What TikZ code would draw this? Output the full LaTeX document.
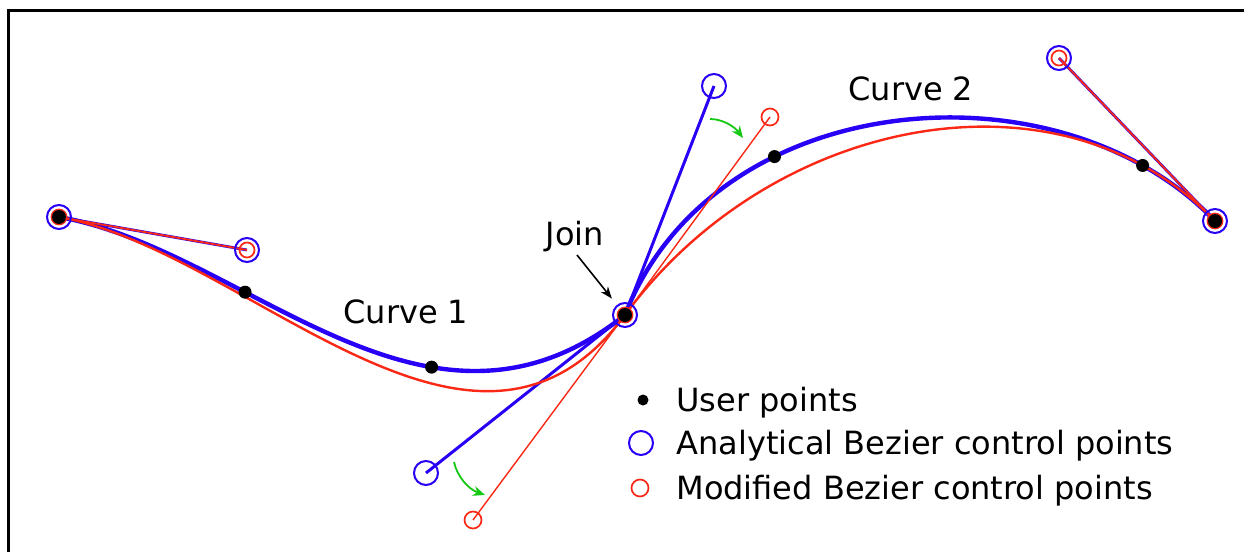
\documentclass[tikz,border=0pt]{standalone}
\usepackage{fontspec}
\setmainfont{DejaVu Sans}
\usetikzlibrary{arrows.meta}

\definecolor{bzblue}{RGB}{40,0,245}
\definecolor{bzred}{RGB}{250,40,20}
\definecolor{bzgreen}{RGB}{20,200,20}

\begin{document}
\begin{tikzpicture}[x=0.5pt, y=-0.5pt, % one unit per pixel, y pointing down
    font=\fontsize{16}{19}\selectfont,
    upt/.style={circle, fill=black, inner sep=0pt, minimum size=6.5pt}, % user point
    acp/.style={circle, draw=bzblue, line width=1pt, inner sep=0pt, minimum size=12pt}, % analytical control point
    mcp/.style={circle, draw=bzred, line width=0.85pt, inner sep=0pt, minimum size=7.5pt}, % modified control point
    lbl/.style={inner sep=0pt},
    turn/.style={-{Stealth[length=6pt, width=5pt]}, bzgreen, line width=0.9pt}
   ]
  \useasboundingbox (0,0) rectangle (1244,552);
  \draw[line width=1.5pt] (1244,10) -- (8,10) -- (8,552);

  % end points and join
  \coordinate (a0) at (59,217);
  \coordinate (join) at (625,315);
  \coordinate (a3) at (1215,221);
  % control points
  \coordinate (c1) at (247,250);
  \coordinate (c2) at (426,473);  % analytical
  \coordinate (c2m) at (473,520); % modified
  \coordinate (c3) at (714,86);   % analytical
  \coordinate (c3m) at (770,117); % modified
  \coordinate (c4) at (1059,58);

  % analytical tangents and curves
  \draw[bzblue, line width=1.4pt] (a0) -- (c1) (a3) -- (c4);
  \draw[bzblue, line width=1.5pt] (c2) -- (join) -- (c3);
  \draw[bzblue, line width=2.2pt] (a0) .. controls (c1) and (c2) .. (join)
     .. controls (c3) and (c4) .. (a3);
  % modified tangents and curves
  \draw[bzred, line width=0.9pt] (a0) -- (c1) (a3) -- (c4);
  \draw[bzred, line width=0.7pt] (c2m) -- (join) -- (c3m);
  \draw[bzred, line width=1.2pt] (a0) .. controls (c1) and (c2m) .. (join)
     .. controls (c3m) and (c4) .. (a3);

  % control point rings
  \foreach \p in {a0,c1,c2,join,c3,c4,a3}
    \node[acp] (b-\p) at (\p) {};
  \foreach \p in {a0,c1,join,c4,a3}
    \node[mcp] (r-\p) at (\p) {};
  \node[mcp, minimum size=8.5pt] (r-c2m) at (c2m) {};
  \node[mcp, minimum size=8.5pt] (r-c3m) at (c3m) {};

  % user points
  \node[upt, minimum size=7pt] (u0) at (a0) {};
  \node[upt, minimum size=7pt] (uj) at (join) {};
  \node[upt, minimum size=7pt] (u6) at (a3) {};
  \path (a0) .. controls (c1) and (c2) .. (join)
     node[upt, pos=0.3333] (u1) {} node[upt, pos=0.6667] (u2) {};
  \path (join) .. controls (c3) and (c4) .. (a3)
     node[upt, pos=0.32] (u4) {} node[upt, pos=0.865] (u5) {};

  % moving the control points
  \coordinate (g1s) at (454,462);
  \coordinate (g1e) at (485,495);
  \draw[turn] (g1s) .. controls (457,476) and (468,489) .. (g1e);
  \coordinate (g2s) at (710,119);
  \coordinate (g2e) at (743,138);
  \draw[turn] (g2s) .. controls (722,119) and (734,126) .. (g2e);

  % labels
  \node[lbl, anchor=base west] (lc1) at (343,323) {Curve 1};
  \node[lbl, anchor=base west] (lc2) at (848,100) {Curve 2};
  \node[lbl, anchor=base] (ljoin) at (575,245) {Join};
  \coordinate (jtail) at (577,255);
  \draw[-{Stealth[length=6pt, width=4.5pt]}, line width=0.8pt, shorten >=4pt] (jtail) -- (b-join);

  % legend
  \node[upt, minimum size=5.5pt] (k1) at (643,400) {};
  \node[acp] (k2) at (641,443) {};
  \node[mcp, minimum size=8.5pt] (k3) at (640,488) {};
  \node[lbl, anchor=base west] (t1) at (676,411) {User points};
  \node[lbl, anchor=base west] (t2) at (676,454) {Analytical Bezier control points};
  \node[lbl, anchor=base west] (t3) at (676,499) {Modified Bezier control points};
\end{tikzpicture}
\end{document}
